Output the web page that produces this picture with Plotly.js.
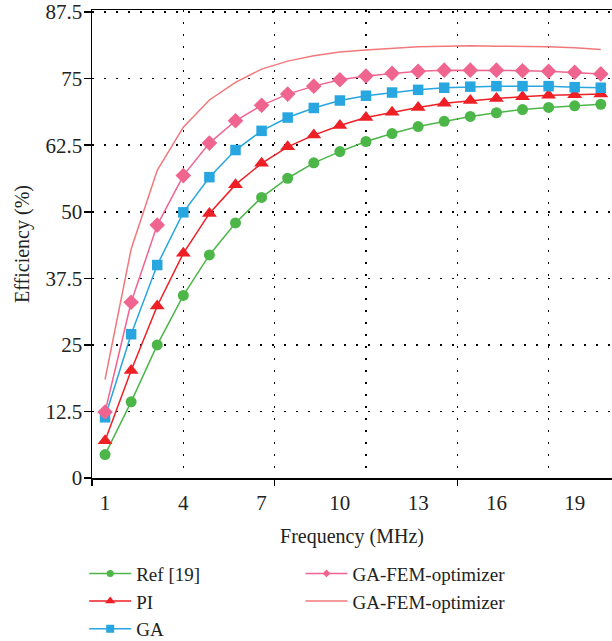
<!DOCTYPE html>
<html>
<head>
<meta charset="utf-8">
<script src="https://cdn.plot.ly/plotly-3.0.1.min.js"></script>
<style>html,body{margin:0;padding:0;background:#fff;}#chart{width:612px;height:641px;}</style>
</head>
<body>
<div id="chart"></div>
<script>
// Data (x are frequency sample indices 1..20)
var xIdx = [1,2,3,4,5,6,7,8,9,10,11,12,13,14,15,16,17,18,19,20];
var refVals = [4.4,14.3,25.0,34.3,41.9,47.9,52.7,56.3,59.2,61.3,63.2,64.7,66.0,67.0,67.9,68.6,69.2,69.6,69.9,70.2];
var piVals  = [7.0,20.2,32.3,42.2,49.7,55.1,59.1,62.2,64.4,66.2,67.7,68.7,69.6,70.4,70.9,71.3,71.6,71.9,72.0,72.1];
var gaVals  = [11.4,27.0,40.0,49.9,56.5,61.6,65.2,67.7,69.5,70.9,71.8,72.4,72.9,73.3,73.5,73.6,73.6,73.6,73.4,73.3];
var femVals = [12.4,33.0,47.5,56.8,62.9,67.1,70.0,72.1,73.6,74.8,75.5,76.0,76.4,76.6,76.6,76.6,76.5,76.4,76.2,75.9];
var femLineVals = [18.5,43.0,57.8,65.9,71.0,74.3,76.8,78.3,79.3,80.0,80.4,80.7,81.0,81.1,81.2,81.1,81.1,81.0,80.8,80.5];
var names = ["Ref [19]","PI","GA","GA-FEM-optimizer","GA-FEM-optimizer"];
var xTickVals = [1,4,7,10,13,16,19];
var xTickText = ["1","4","7","10","13","16","19"];
var yTickVals = [0,12.5,25,37.5,50,62.5,75,87.5];
var yTickText = ["0","12.5","25","37.5","50","62.5","75","87.5"];
var xGridVals = [4,7.5,11,14.5,18];
var xTickMarkVals = [0.5,7.5,14.5];

var font = "Liberation Serif, Times New Roman, serif";
var colors = ["#4cb748","#ee1f25","#27a6df","#ef6590","#f2787c"];
var symbols = ["circle","triangle-up","square","diamond",null];
var plotSizes = [11,13,10.5,12,0];
var legSizes = [7,9,8,6,0];
var series = [refVals, piVals, gaVals, femVals, femLineVals];
var legendIds = ["legend","legend","legend","legend2","legend2"];

var traces = [];
for (var i = 0; i < series.length; i++) {
  var t = {x:xIdx, y:series[i], name:names[i], showlegend:false,
    mode: symbols[i] ? "lines+markers" : "lines",
    line:{color:colors[i], width:1.5}};
  if (symbols[i]) t.marker = {symbol:symbols[i], size:plotSizes[i], color:colors[i]};
  traces.push(t);
}
// legend entries (small symbols as in the reference legend)
for (var j = 0; j < series.length; j++) {
  var lt = {x:[null], y:[null], name:names[j], showlegend:true, legend:legendIds[j],
    mode: symbols[j] ? "lines+markers" : "lines",
    line:{color:colors[j], width:1.5}, hoverinfo:"skip"};
  if (symbols[j]) lt.marker = {symbol:symbols[j], size:legSizes[j], color:colors[j]};
  traces.push(lt);
}
traces.push({x:[xIdx[0]], y:[refVals[0]], xaxis:"x2", yaxis:"y", mode:"markers", marker:{opacity:0}, showlegend:false, hoverinfo:"skip"});

var xr = [0.5, 20.43];
var layout = {
  width:612, height:641,
  margin:{l:92, r:0, t:10, b:163, autoexpand:false},
  paper_bgcolor:"#fff", plot_bgcolor:"#fff",
  font:{family:font, size:20, color:"#222"},
  showlegend:true,
  xaxis:{
    range:xr, showline:true, linecolor:"#000", linewidth:1.5, mirror:true,
    tickmode:"array", tickvals:xTickMarkVals, ticks:"outside", ticklen:6, tickwidth:1.5, tickcolor:"#000",
    showticklabels:false, showgrid:false, zeroline:false,
    minor:{tickmode:"array", tickvals:xGridVals, showgrid:true, gridcolor:"#000", gridwidth:1.5, griddash:"1.5px,10.5px", ticks:""}
  },
  xaxis2:{
    range:xr, overlaying:"x", anchor:"y", side:"bottom",
    tickmode:"array", tickvals:xTickVals, ticktext:xTickText, ticks:"", showgrid:false, zeroline:false, showline:false,
    ticklabelstandoff:10,
    tickfont:{family:font, size:21, color:"#222"},
    title:{text:"Frequency (MHz)", font:{family:font, size:20, color:"#222"}, standoff:14}
  },
  yaxis:{
    range:[0,87.9], showline:true, linecolor:"#000", linewidth:1.5,
    tickmode:"array", tickvals:yTickVals, ticktext:yTickText, ticks:"outside", ticklen:7, tickwidth:1.5, tickcolor:"#000",
    showgrid:true, gridcolor:"#000", gridwidth:1.5, griddash:"1.5px,10.5px", zeroline:false,
    ticklabelstandoff:-3,
    tickfont:{family:font, size:21, color:"#222"},
    title:{text:"Efficiency (%)", font:{family:font, size:20, color:"#222"}, standoff:10}
  },
  legend:{x:-0.015, y:-0.1636, xanchor:"left", yanchor:"top", orientation:"v", itemwidth:42, bgcolor:"rgba(0,0,0,0)", font:{family:font, size:19, color:"#222"}, tracegroupgap:0},
  legend2:{x:0.401, y:-0.1636, xanchor:"left", yanchor:"top", orientation:"v", itemwidth:42, bgcolor:"rgba(0,0,0,0)", font:{family:font, size:19, color:"#222"}, tracegroupgap:0}
};
Plotly.newPlot("chart", traces, layout, {displayModeBar:false, staticPlot:true});
</script>
</body>
</html>
